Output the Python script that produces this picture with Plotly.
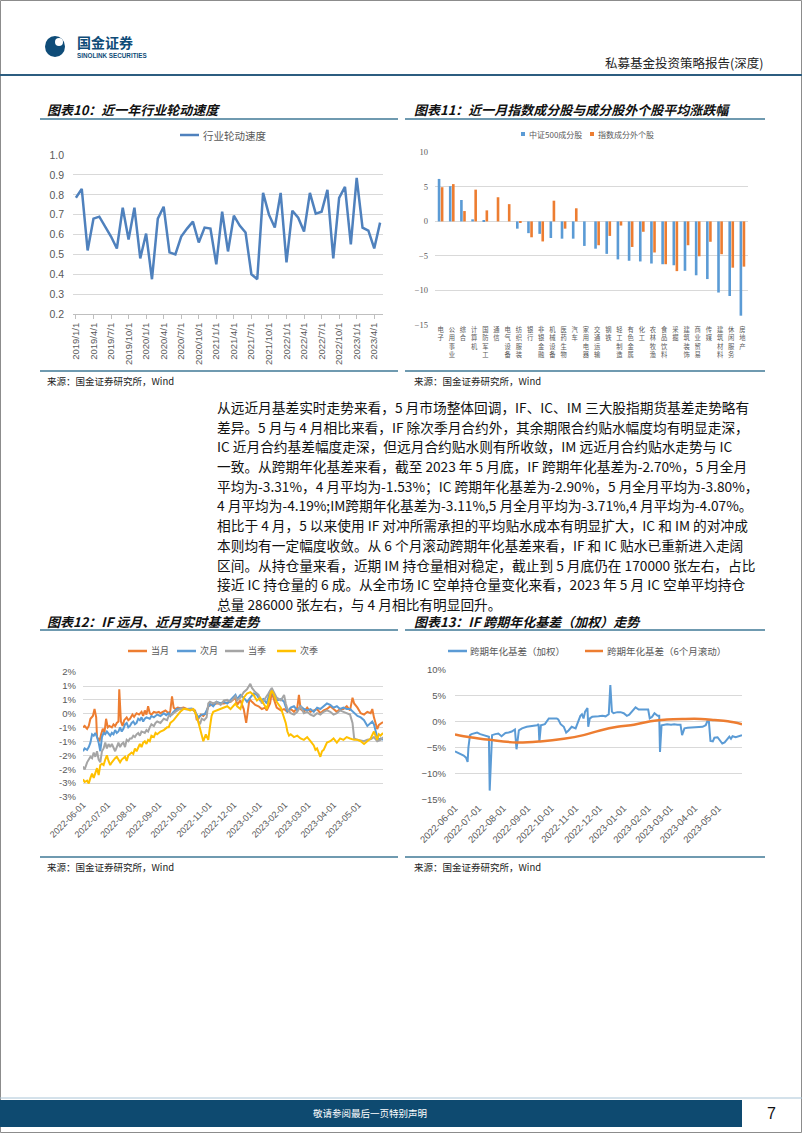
import plotly.graph_objects as go
import pandas as pd

W, H = 802, 1133


def px(x):
    return x / W


def py(y):
    return 1 - y / H


CJK = "Noto Sans CJK SC"
NUM = "Liberation Sans"
TXT = "#595959"
GRID = "#d9d9d9"
RULE = "#3f7896"

# ---------------- Chart 10: industry rotation speed (monthly) ----------------
rot_labels = [f"{y}/{m}/1" for y in range(2019, 2024) for m in range(1, 13)][:53]
rot_values = [0.785, 0.83, 0.52, 0.68, 0.69, 0.64, 0.59, 0.53, 0.735, 0.575, 0.735, 0.48,
              0.605, 0.375, 0.68, 0.74, 0.51, 0.50, 0.59, 0.63, 0.665, 0.56, 0.635, 0.63,
              0.45, 0.715, 0.515, 0.695, 0.645, 0.61, 0.40, 0.375, 0.81, 0.70, 0.635, 0.81,
              0.46, 0.72, 0.685, 0.615, 0.81, 0.705, 0.715, 0.825, 0.48, 0.785, 0.84, 0.55,
              0.885, 0.635, 0.62, 0.53, 0.66]
rot_ticks = rot_labels[::3]

# ---------------- Chart 11: index members vs non-members ----------------
industries = ["电子", "公用事业", "综合", "计算机", "国防军工", "通信", "电气设备", "纺织服装",
              "银行", "非银金融", "机械设备", "医药生物", "汽车", "家用电器", "交通运输", "钢铁",
              "轻工制造", "有色金属", "化工", "农林牧渔", "食品饮料", "采掘", "建筑装饰",
              "商业贸易", "传媒", "建筑材料", "休闲服务", "房地产"]
csi500_members = [6.15, 5.1, 3.1, 0.3, 0.2, 0.0, 0.0, -1.05, -1.7, -1.8, -2.4, -2.5, -2.5,
                  -3.55, -3.95, -4.7, -5.5, -5.7, -5.8, -6.1, -6.2, -6.35, -7.15, -7.8,
                  -8.35, -10.3, -10.8, -13.65]
non_members = [4.95, 5.4, 1.5, 4.6, 1.6, 3.5, 2.5, -0.15, -2.3, -2.9, 3.0, -1.05, 1.9,
               0.0, -3.45, -2.1, -0.6, -3.7, -1.5, -4.5, -6.2, -7.2, -3.45, -5.05,
               -2.95, -4.75, -6.7, -6.55]

# ---------------- Chart 12: IF basis (%), day offsets from 2022-06-01 ----------------
BASE = "2022-06-01"
cur_month_days = [0, 2, 5, 7, 9, 12, 14, 16, 17, 20, 22, 24, 26, 28, 30, 32, 35, 37, 39, 41,
                  43, 44, 46, 48, 50, 53, 55, 57, 60, 62, 65, 68, 71, 73, 75, 77, 79, 81, 83, 86,
                  89, 92, 94, 97, 100, 102, 105, 106, 108, 110, 112, 115, 118, 122, 126, 130,
                  136, 138, 140, 143, 146, 150, 152, 156, 162, 171, 179, 185,
                  187, 191, 195, 198, 200, 202, 205, 209, 213, 217, 221, 223, 227, 229, 231,
                  235, 240, 244, 248, 252, 256, 260, 262, 264, 268, 272, 276, 280, 284, 288,
                  292, 296, 300, 304, 308, 312, 316, 320, 324, 327, 329, 333, 337, 341, 345,
                  349, 351, 353, 355, 357, 359, 361, 364]
cur_month_vals = [-0.49, -0.44, -0.54, -0.44, -0.18, -0.08, 0.17, -0.13, -0.84, -0.99,
                  -0.74, -0.54, -0.69, -0.18, -0.49, -0.44, -0.49, -0.38, -0.44, -0.33,
                  -0.28, 0.88, -0.28, -0.44, -0.23, -0.13, -0.23, -0.18, -0.03, -0.11,
                  0.02, -0.03, 0.07, -0.08, 0.12, -0.03, 0.27, 0.02, -0.03, 0.07,
                  0.04, 0.07, 0.02, 0.07, 0.12, 0.07, 0.02, 0.12, 0.63, 0.22,
                  0.17, 0.22, 0.20, 0.22, 0.17, 0.17, 0.12, -0.23, -0.18, -0.03,
                  -0.08, 0.07, 0.27, 0.32, 0.37, 0.37, 0.43, 0.58,
                  0.32, 0.48, 0.17, -0.33, 0.17, 0.53, 0.43, 0.32, 0.27, 0.17,
                  0.22, 0.12, 0.37, 0.78, 0.58, 0.22, 0.12, 0.17, 0.07, 0.17,
                  0.07, 0.22, 0.68, 0.17, 0.07, 0.22, 0.07, 0.12, 0.17, 0.02,
                  0.12, 0.17, 0.27, 0.17, 0.07, 0.17, 0.17, 0.27, 0.12, 0.58,
                  0.37, 0.22, 0.02, -0.03, 0.07, 0.02, 0.17, -0.13, -0.33, -0.55,
                  -0.40, -0.35, -0.30]

next_month_days = [0, 2, 5, 7, 9, 11, 13, 15, 17, 19, 21, 23, 25, 27, 29, 33, 35, 37, 39, 41,
                   43, 45, 47, 49, 51, 53, 55, 57, 59, 61, 63, 65, 67, 69, 71, 73, 75, 77, 81,
                   83, 86, 90, 94, 98, 101, 104, 106, 110, 114, 118, 126, 132, 136, 140, 144,
                   148, 150, 154, 158, 162, 167, 171, 175, 179, 185,
                   187, 191, 195, 199, 203, 207, 211, 215, 219, 223, 227, 229, 231, 235, 240,
                   244, 248, 252, 256, 260, 264, 268, 272, 276, 280, 284, 288, 292, 296, 300,
                   304, 308, 312, 316, 320, 324, 329, 333, 337, 341, 345, 349, 351, 353, 357,
                   359, 361, 364]
next_month_vals = [-1.35, -1.25, -1.30, -1.20, -1.04, -0.74, -0.79, -0.69, -0.84, -1.04,
                   -1.35, -0.84, -0.69, -0.74, -0.64, -0.79, -0.69, -0.74, -0.59, -0.69,
                   -0.64, -0.49, -0.64, -0.54, -0.38, -0.33, -0.49, -0.44, -0.33, -0.28,
                   -0.38, -0.33, -0.18, -0.23, -0.13, -0.28, -0.18, -0.13, -0.18,
                   -0.08, -0.13, -0.03, -0.08, 0.02, -0.05, 0.02, -0.08, 0.07, 0.17, 0.19,
                   0.17, 0.19, 0.07, -0.13, -0.03, -0.01, 0.12, 0.37, 0.27, 0.43, 0.37,
                   0.43, 0.37, 0.48, 0.68,
                   0.53, 0.68, 0.58, 0.43, 0.58, 0.73, 0.68, 0.48, 0.53, 0.37, 0.83, 0.88,
                   0.68, 0.48, 0.53, 0.43, 0.07, 0.22, 0.27, 0.12, 0.27, 0.17, 0.12, 0.17,
                   0.07, 0.22, 0.17, 0.27, 0.37, 0.32, 0.22, 0.27, 0.17, 0.22, 0.17, 0.17,
                   0.02, -0.08, -0.13, -0.23, -0.44, -0.33, -0.28, -0.38, -0.84, -0.94,
                   -0.89, -0.94]

cur_quarter_days = [0, 2, 5, 7, 9, 11, 13, 15, 17, 19, 21, 23, 25, 27, 29, 31, 33, 35, 37, 39,
                    41, 43, 45, 47, 49, 51, 53, 55, 57, 59, 61, 63, 65, 67, 69, 71, 73, 75, 77,
                    79, 81, 83, 86, 88, 90, 94, 98, 102, 104, 108, 112, 116, 120, 126, 132,
                    136, 140, 142, 144, 147, 150, 152, 154, 158, 162, 167, 171, 175, 179, 185,
                    187, 191, 195, 199, 203, 205, 209, 213, 217, 221, 225, 229, 231, 235, 240,
                    244, 246, 248, 252, 256, 260, 264, 268, 272, 276, 280, 284, 288, 292, 296,
                    300, 304, 308, 312, 316, 320, 324, 327, 329, 333, 337, 341, 345, 349, 353,
                    357, 361, 364]
cur_quarter_vals = [-1.90, -2.01, -1.75, -1.65, -1.55, -1.60, -1.40, -1.55, -1.35, -1.65,
                    -1.75, -1.35, -1.25, -1.04, -1.25, -1.09, -1.20, -1.09, -1.25, -1.35,
                    -1.20, -1.04, -1.20, -1.09, -1.04, -1.20, -0.94, -0.99, -0.89, -0.89,
                    -0.79, -0.84, -0.74, -0.69, -0.79, -0.64, -0.66, -0.69, -0.59,
                    -0.64, -0.49, -0.38, -0.44, -0.33, -0.28, -0.33, -0.18, -0.23, -0.08,
                    -0.03, 0.07, 0.15, 0.19, 0.15, 0.17, 0.07, -0.28, -0.38, -0.18, -0.23,
                    -0.13, 0.37, 0.43, 0.37, 0.43, 0.32, 0.48, 0.50, 0.43, 0.63,
                    0.48, 0.58, 0.78, 0.88, 1.08, 0.93, 0.78, 0.68, 0.37, 0.53, 0.73, 0.93,
                    0.83, 0.58, 0.48, 0.68, 0.37, 0.17, 0.02, -0.03, 0.07, 0.27, 0.02, 0.07,
                    -0.03, -0.08, 0.02, -0.03, 0.07, 0.12, 0.07, -0.03, 0.02, 0.12, 0.07,
                    0.02, -0.03, -0.33, -0.89, -0.94, -0.96, -0.99, -0.94, -0.92, -0.84,
                    -0.99, -0.94, -0.84]

next_quarter_days = [0, 2, 5, 7, 9, 11, 13, 15, 17, 19, 21, 23, 25, 27, 29, 31, 33, 35, 37,
                     39, 41, 43, 45, 47, 49, 51, 53, 55, 57, 59, 61, 63, 65, 67, 69, 71, 73,
                     75, 77, 79, 81, 83, 86, 88, 90, 94, 98, 102, 104, 106, 110, 114, 118,
                     122, 126, 130, 134, 138, 141, 144, 146, 149, 152, 154, 156, 158, 162,
                     167, 171, 175, 179, 185,
                     187, 191, 195, 199, 203, 207, 211, 215, 219, 223, 227, 229, 231, 235,
                     240, 242, 244, 246, 248, 250, 252, 256, 260, 264, 268, 272, 276, 280,
                     282, 284, 288, 290, 292, 296, 300, 304, 308, 312, 316, 320, 324, 329,
                     333, 337, 341, 345, 349, 353, 355, 357, 359, 361, 364]
next_quarter_vals = [-2.36, -2.46, -2.41, -2.51, -2.31, -2.16, -2.31, -2.11, -1.96, -2.21,
                     -1.85, -1.80, -1.85, -1.65, -1.50, -1.70, -1.85, -1.75, -1.65, -1.60,
                     -1.55, -1.65, -1.75, -1.65, -1.60, -1.55, -1.70, -1.50, -1.45, -1.40,
                     -1.45, -1.25, -1.35, -1.20, -1.09, -1.20, -1.04, -0.99, -1.09, -0.94,
                     -0.99, -0.79, -0.84, -0.69, -0.74, -0.64, -0.59, -0.49, -0.49, -0.33,
                     -0.23, -0.08, 0.07, 0.17, 0.17, 0.12, 0.17, -0.08, -0.44, -0.74,
                     -0.99, -0.74, -0.94, -0.48, -0.08, 0.07, 0.12, 0.17, 0.22, 0.27,
                     0.17, 0.37,
                     0.27, 0.17, 0.58, 0.73, 0.78, 0.68, 0.48, 0.58, 0.37, 0.17, 0.68, 0.83,
                     0.73, 0.43, 0.22, 0.02, -0.13, -0.33, -0.64, -0.79, -0.74, -0.84, -0.79,
                     -0.89, -0.94, -0.84, -0.99, -1.14, -1.30, -1.25, -1.55, -1.35, -1.30,
                     -1.04, -0.99, -0.89, -1.04, -0.89, -0.94, -0.84, -0.89, -0.94, -0.94,
                     -0.99, -1.09, -0.99, -0.89, -0.64, -0.79, -0.94, -0.74, -0.79, -0.69]

# ---------------- Chart 13: IF calendar-spread annualized basis (%) ----------------
spread_days = [0, 6, 11, 14, 16, 17, 19, 21, 25, 28, 32, 36, 40, 43, 44, 46, 47, 51, 55, 59,
               64, 68, 72, 76, 78, 81, 85, 91, 98, 104, 106, 107, 109, 114, 119, 125, 129,
               131, 134, 138, 141, 144, 148, 153, 157, 159, 161, 163, 165, 168, 169, 171,
               174, 178, 182, 187, 191, 195, 197, 199, 201, 206, 210, 214, 218, 221, 225,
               229, 233, 238, 242, 245, 247, 250, 253, 257, 259, 260, 262, 265, 269, 274,
               278, 282, 286, 288, 291, 295, 301, 308, 314, 318, 320, 322, 324, 327, 329,
               333, 336, 339, 342, 345, 348, 350, 352, 356, 361, 364]
spread_vals = [-5.7, -6.1, -6.5, -6.9, -7.7, -5.0, -2.6, -2.4, -2.3, -2.1, -2.4, -2.6, -2.8,
               -2.9, -13.2, -3.4, -2.6, -2.4, -2.3, -2.8, -2.2, -2.1, -1.9, -1.5, -5.3, -1.7,
               -1.3, -1.0, -0.9, -0.7, -0.5, -3.9, -0.7, -0.5, 0.6, 0.6, 0.6, 0.4, -0.5,
               -1.0, -2.1, -1.7, -1.0, -1.3, 0.6, 1.1, 1.4, 0.6, 1.9, 2.6, -1.0, 0.6, 0.9,
               0.9, 1.0, 1.1, 1.0, 1.4, 7.0, 1.9, 1.6, 1.8, 1.8, 1.6, 1.1, 1.3, 1.9, 2.7,
               2.3, 2.3, 2.2, 2.3, 0.6, 0.9, 1.6, 1.1, 1.1, -5.8, -0.7, -0.6, -0.5, -0.6,
               -0.5, -0.6, -0.6, -2.6, -1.3, -1.2, -1.1, -1.0, -1.0, -0.7, 0.05, 0.05, -3.7,
               -3.8, -3.1, -3.0, -3.5, -4.2, -4.0, -3.5, -2.9, -3.3, -2.8, -3.0, -2.8, -2.6]
rolling_days = [0, 19, 44, 78, 108, 138, 163, 184, 206, 227, 248, 269, 291, 312, 329, 346, 364]
rolling_vals = [-2.45, -3.0, -3.5, -4.0, -3.8, -3.3, -2.6, -1.7, -1.0, -0.6, 0.05, 0.4, 0.5,
                0.5, 0.3, 0.05, -0.5]

month_ticks = ["2022-06-01", "2022-07-01", "2022-08-01", "2022-09-01", "2022-10-01",
               "2022-11-01", "2022-12-01", "2023-01-01", "2023-02-01", "2023-03-01",
               "2023-04-01", "2023-05-01"]

c12_tickvals = [-3.0, -2.5, -2.0, -1.5, -1.0, -0.5, 0.0, 0.5, 1.0, 1.5]
c12_ticktext = ["-3%", "-3%", "-2%", "-2%", "-1%", "-1%", "0%", "1%", "1%", "2%"]

body_lines = [
    "从远近月基差实时走势来看，5 月市场整体回调，IF、IC、IM 三大股指期货基差走势略有",
    "差异。5 月与 4 月相比来看，IF 除次季月合约外，其余期限合约贴水幅度均有明显走深，",
    "IC 近月合约基差幅度走深，但远月合约贴水则有所收敛，IM 远近月合约贴水走势与 IC",
    "一致。从跨期年化基差来看，截至 2023 年 5 月底，IF 跨期年化基差为-2.70%，5 月全月",
    "平均为-3.31%，4 月平均为-1.53%；IC 跨期年化基差为-2.90%，5 月全月平均为-3.80%，",
    "4 月平均为-4.19%;IM跨期年化基差为-3.11%,5 月全月平均为-3.71%,4 月平均为-4.07%。",
    "相比于 4 月，5 以来使用 IF 对冲所需承担的平均贴水成本有明显扩大，IC 和 IM 的对冲成",
    "本则均有一定幅度收敛。从 6 个月滚动跨期年化基差来看，IF 和 IC 贴水已重新进入走阔",
    "区间。从持仓量来看，近期 IM 持仓量相对稳定，截止到 5 月底仍在 170000 张左右，占比",
    "接近 IC 持仓量的 6 成。从全市场 IC 空单持仓量变化来看，2023 年 5 月 IC 空单平均持仓",
    "总量 286000 张左右，与 4 月相比有明显回升。",
]


def to_dates(days):
    b = pd.Timestamp(BASE)
    return [b + pd.Timedelta(days=d) for d in days]


fig = go.Figure()

# Chart 10
fig.add_trace(go.Scatter(x=rot_labels, y=rot_values, mode="lines", xaxis="x", yaxis="y",
                         line=dict(color="#4F81BD", width=2.5), name="行业轮动速度"))
# Chart 11
fig.add_trace(go.Bar(x=industries, y=csi500_members, xaxis="x2", yaxis="y2",
                     marker=dict(color="#5B9BD5", line=dict(width=0)), name="中证500成分股"))
fig.add_trace(go.Bar(x=industries, y=non_members, xaxis="x2", yaxis="y2",
                     marker=dict(color="#ED7D31", line=dict(width=0)), name="指数成分外个股"))
# Chart 12
for days, vals, color, nm in [
    (cur_month_days, cur_month_vals, "#ED7D31", "当月"),
    (next_month_days, next_month_vals, "#5B9BD5", "次月"),
    (cur_quarter_days, cur_quarter_vals, "#A5A5A5", "当季"),
    (next_quarter_days, next_quarter_vals, "#FFC000", "次季"),
]:
    fig.add_trace(go.Scatter(x=to_dates(days), y=vals, mode="lines", xaxis="x3", yaxis="y3",
                             line=dict(color=color, width=2), name=nm))
# Chart 13
fig.add_trace(go.Scatter(x=to_dates(spread_days), y=spread_vals, mode="lines", xaxis="x4",
                         yaxis="y4", line=dict(color="#5B9BD5", width=2),
                         name="跨期年化基差（加权）"))
fig.add_trace(go.Scatter(x=to_dates(rolling_days), y=rolling_vals, mode="lines", xaxis="x4",
                         yaxis="y4", line=dict(color="#ED7D31", width=2.5, shape="spline"),
                         name="跨期年化基差（6个月滚动）"))

# vertical layout of the lower charts (page pixels)
C12_TOP, C12_BOT = 672, 797
C13_TOP, C13_BOT = 669, 800

fig.update_layout(
    width=W, height=H, margin=dict(l=0, r=0, t=0, b=0, autoexpand=False),
    paper_bgcolor="white", plot_bgcolor="white", showlegend=False,
    barmode="group", bargap=0.45, bargroupgap=0.15,
    font=dict(family=CJK, color=TXT),
    xaxis=dict(domain=[px(73), px(383)], anchor="y", type="category", range=[-0.5, 52.5],
               tickmode="array", tickvals=rot_ticks, ticktext=rot_ticks, tickangle=-90,
               tickfont=dict(family=NUM, size=9.5, color=TXT), showgrid=False,
               showline=True, linecolor="#bfbfbf", ticks="outside", ticklen=4,
               tickcolor="#bfbfbf", zeroline=False, automargin=False),
    yaxis=dict(domain=[py(314), py(155)], anchor="x", range=[0.2, 1.0005], tick0=0.2,
               dtick=0.1, tickformat=".1f", gridcolor=GRID, zeroline=False, showline=False,
               tickfont=dict(family=NUM, size=10.5, color=TXT), ticklabelstandoff=8,
               automargin=False),
    xaxis2=dict(domain=[px(435), px(748)], anchor="y2", type="category",
                tickmode="array", tickvals=industries,
                ticktext=["<br>".join(list(s)) for s in industries], tickangle=0,
                tickfont=dict(family=CJK, size=6.3, color=TXT), showgrid=False,
                showline=False, zeroline=False, ticks="", automargin=False),
    yaxis2=dict(domain=[py(325), py(152)], anchor="x2", range=[-15, 10.05], dtick=5,
                tick0=-15, gridcolor=GRID, zeroline=False, showline=False,
                tickfont=dict(family="Liberation Serif", size=8.5, color=TXT),
                ticklabelstandoff=6, automargin=False),
    xaxis3=dict(domain=[px(83), px(383)], anchor="y3", type="date",
                range=["2022-06-01", "2023-05-31"], tickmode="array", tickvals=month_ticks,
                ticktext=month_ticks, tickangle=-45, showgrid=False, showline=False,
                zeroline=False, ticks="", tickfont=dict(family=NUM, size=9, color=TXT),
                automargin=False),
    yaxis3=dict(domain=[py(C12_BOT), py(C12_TOP)], anchor="x3", range=[-3.0, 1.505],
                tickmode="array", tickvals=c12_tickvals, ticktext=c12_ticktext,
                gridcolor=GRID, zeroline=False, showline=False,
                tickfont=dict(family=NUM, size=9.5, color=TXT), ticklabelstandoff=6,
                automargin=False),
    xaxis4=dict(domain=[px(455), px(742)], anchor="y4", type="date",
                range=["2022-06-01", "2023-05-31"], tickmode="array", tickvals=month_ticks,
                ticktext=month_ticks, tickangle=-45, showgrid=False, showline=False,
                zeroline=False, ticks="", tickfont=dict(family=NUM, size=9.5, color=TXT),
                automargin=False),
    yaxis4=dict(domain=[py(C13_BOT), py(C13_TOP)], anchor="x4", range=[-15, 10.05], dtick=5,
                tick0=-15, ticksuffix="%", gridcolor=GRID, zeroline=False, showline=False,
                tickfont=dict(family=NUM, size=9.5, color=TXT), ticklabelstandoff=8,
                automargin=False),
)

shapes = []
annotations = []


def hline(x0, x1, y, color, width):
    shapes.append(dict(type="line", xref="paper", yref="paper", x0=px(x0), x1=px(x1),
                       y0=py(y), y1=py(y), line=dict(color=color, width=width)))


def rect(x0, y0, x1, y1, fill, line_color=None, lw=0):
    shapes.append(dict(type="rect", xref="paper", yref="paper", x0=px(x0), x1=px(x1),
                       y0=py(y1), y1=py(y0), fillcolor=fill,
                       line=dict(color=line_color or fill, width=lw)))


def text(x, y, s, size, color="#000000", anchor="left", family=CJK):
    annotations.append(dict(x=px(x), y=py(y), xref="paper", yref="paper", text=s,
                            showarrow=False, xanchor=anchor, yanchor="middle",
                            font=dict(family=family, size=size, color=color)))


# page frame
shapes.append(dict(type="rect", xref="paper", yref="paper", x0=px(0.5), x1=px(801.5),
                   y0=py(1132.5), y1=py(0.5), line=dict(color="#8c8c8c", width=1)))

# header
shapes.append(dict(type="circle", xref="paper", yref="paper", x0=px(45), x1=px(65),
                   y0=py(57), y1=py(36), fillcolor="#0f4c78", line=dict(width=0)))
shapes.append(dict(type="circle", xref="paper", yref="paper", x0=px(55), x1=px(63),
                   y0=py(46), y1=py(38), fillcolor="white", line=dict(width=0)))
text(75, 42.5, "<b>国金证券</b>", 14, "#0f4c78")
text(75, 55.5, "<b>SINOLINK SECURITIES</b>", 6.3, "#0f4c78", family=NUM)
text(765, 62, "私募基金投资策略报告(深度)", 12.5, "#222222", anchor="right")
hline(0, 802, 75, "#2c5d80", 2)

# chart titles
TTL_LOW = 621
text(45, 110, "<b><i>图表10：近一年行业轮动速度</i></b>", 13, "#111111")
text(412, 110, "<b><i>图表11：近一月指数成分股与成分股外个股平均涨跌幅</i></b>", 13, "#111111")
text(45, TTL_LOW, "<b><i>图表12：IF 远月、近月实时基差走势</i></b>", 13, "#111111")
text(412, TTL_LOW, "<b><i>图表13：IF 跨期年化基差（加权）走势</i></b>", 13, "#111111")
for (a, b) in [(40, 398), (405, 765)]:
    hline(a, b, 119, RULE, 1.5)
    hline(a, b, TTL_LOW + 9, RULE, 1.5)
    hline(a, b, 371, RULE, 1.5)
    hline(a, b, 857, RULE, 1.5)

# sources
for (x0, y0) in [(45, 381), (412, 381), (45, 867), (412, 867)]:
    text(x0, y0, "来源：国金证券研究所，Wind", 9.5, "#222222")

# legends (manual)
hline(180, 199, 135, "#4F81BD", 2.5)
text(201, 135, "行业轮动速度", 10.5, TXT)

rect(521, 132, 525, 136, "#5B9BD5")
text(527, 134, "中证500成分股", 8, TXT)
rect(590, 132, 594, 136, "#ED7D31")
text(596, 134, "指数成分外个股", 8, TXT)

LEG_LOW = 651
for (x0, c, s) in [(128, "#ED7D31", "当月"), (177, "#5B9BD5", "次月"),
                   (225, "#A5A5A5", "当季"), (277, "#FFC000", "次季")]:
    hline(x0, x0 + 19, LEG_LOW, c, 2.5)
    text(x0 + 21, LEG_LOW, s, 9, TXT)

hline(448, 467, LEG_LOW, "#5B9BD5", 2.5)
text(468, LEG_LOW, "跨期年化基差（加权）", 9.5, TXT)
hline(585, 603, LEG_LOW, "#ED7D31", 2.5)
text(605, LEG_LOW, "跨期年化基差（6个月滚动）", 9.5, TXT)

# body paragraph
for i, line in enumerate(body_lines):
    text(215, 407 + 19.7 * i, line, 13.7, "#111111")

# footer
hline(0, 802, 1098, "#a9c4d6", 1)
rect(0, 1100, 742, 1127, "#0e4a70")
text(370, 1113, "敬请参阅最后一页特别声明", 9.5, "white", anchor="center")
text(771, 1113, "7", 16, "#111111", anchor="center", family=NUM)

fig.update_layout(shapes=shapes, annotations=annotations)

fig.write_html("out.html", config={"displayModeBar": False},
               post_script="document.body.style.margin='0';document.body.style.overflow='hidden';")
